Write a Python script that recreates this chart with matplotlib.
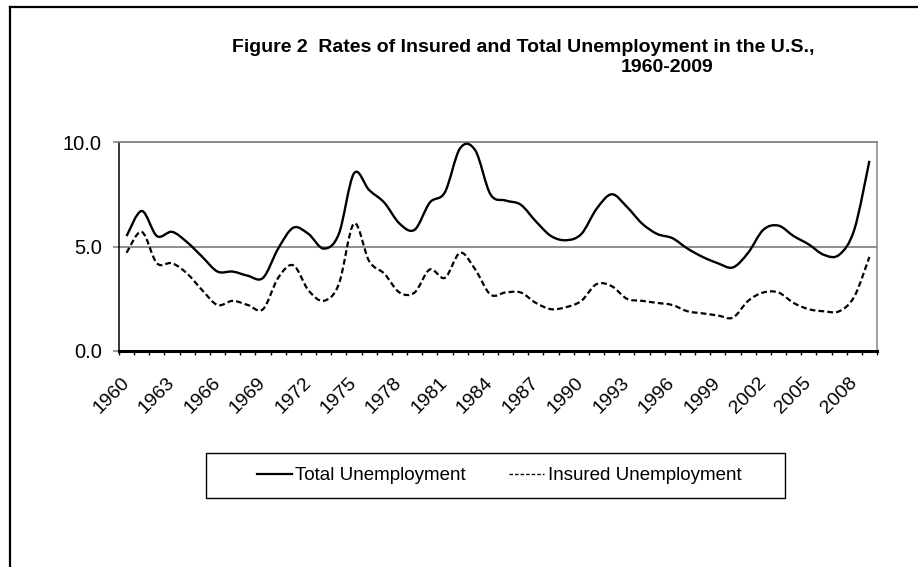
import numpy as np
import matplotlib
matplotlib.use("Agg")
import matplotlib.pyplot as plt
from matplotlib.path import Path
from matplotlib.patches import PathPatch, Rectangle
from matplotlib.lines import Line2D

plt.rcParams['font.family'] = ['Liberation Sans', 'DejaVu Sans']

W, H = 918, 567

years = list(range(1960, 2010))
total_rate = [5.5, 6.7, 5.5, 5.7, 5.2, 4.5, 3.8, 3.8, 3.6, 3.5,
              4.9, 5.9, 5.6, 4.9, 5.6, 8.5, 7.7, 7.1, 6.1, 5.8,
              7.1, 7.6, 9.7, 9.6, 7.5, 7.2, 7.0, 6.2, 5.5, 5.3,
              5.6, 6.8, 7.5, 6.9, 6.1, 5.6, 5.4, 4.9, 4.5, 4.2,
              4.0, 4.7, 5.8, 6.0, 5.5, 5.1, 4.6, 4.6, 5.8, 9.1]
insured_rate = [4.7, 5.7, 4.2, 4.2, 3.7, 2.9, 2.2, 2.4, 2.2, 2.0,
                3.5, 4.1, 2.9, 2.4, 3.2, 6.1, 4.3, 3.7, 2.8, 2.8,
                3.9, 3.5, 4.7, 3.9, 2.7, 2.8, 2.8, 2.3, 2.0, 2.1,
                2.4, 3.2, 3.1, 2.5, 2.4, 2.3, 2.2, 1.9, 1.8, 1.7,
                1.6, 2.4, 2.8, 2.8, 2.3, 2.0, 1.9, 1.9, 2.6, 4.5]
y_ticks = [0, 5, 10]
series_names = ['Total Unemployment', 'Insured Unemployment']


def smooth_path(xs, ys):
    # excel style smoothed line: bezier segments through every point
    pts = np.column_stack([xs, ys]).astype(float)
    padded = np.vstack([pts[0], pts, pts[-1]])
    verts = [pts[0]]
    codes = [Path.MOVETO]
    for i in range(len(pts) - 1):
        p0, p1, p2, p3 = padded[i], padded[i + 1], padded[i + 2], padded[i + 3]
        verts += [p1 + (p2 - p0) / 6, p2 - (p3 - p1) / 6, p2]
        codes += [Path.CURVE4] * 3
    return Path(verts, codes)


def fx(px):
    return px / W


def fy(px):
    return 1 - px / H


fig = plt.figure(figsize=(W / 100, H / 100), dpi=100)
ax = fig.add_axes([fx(119), fy(351), fx(877) - fx(119), fy(142) - fy(351)])

x = np.arange(len(years))
ax.add_patch(PathPatch(smooth_path(x, total_rate), fill=False,
                       edgecolor='black', lw=1.7, zorder=3))
ax.add_patch(PathPatch(smooth_path(x, insured_rate), fill=False,
                       edgecolor='black', lw=1.6, linestyle=(0, (2.6, 1.4)), zorder=3))

ax.set_xlim(-0.5, len(years) - 0.5)
ax.set_ylim(0, 10)

gray = '#868686'
ax.set_xticks(x[::3])
ax.set_xticklabels([str(y) for y in years[::3]], rotation=45, ha='right',
                   va='center', rotation_mode='anchor', fontsize=14)
ax.set_xticks(np.arange(-0.5, len(years), 1), minor=True)
ax.tick_params(axis='x', which='major', length=0, pad=21)
ax.tick_params(axis='x', which='minor', length=3, width=1, color='black')

ax.set_yticks(y_ticks)
ax.set_yticklabels(['%.1f' % v for v in y_ticks], fontsize=14.5)
ax.tick_params(axis='y', length=4.5, width=1.2, color=gray, pad=8)
ax.yaxis.grid(True, color=gray, lw=1.3)
ax.set_axisbelow(True)

ax.spines['bottom'].set_linewidth(2.2)
ax.spines['bottom'].set_color('black')
ax.spines['left'].set_linewidth(1.1)
ax.spines['left'].set_color('black')
ax.spines['right'].set_color(gray)
ax.spines['right'].set_linewidth(1.1)
ax.spines['top'].set_color(gray)
ax.spines['top'].set_linewidth(1.3)
ax.spines['bottom'].set_zorder(4)

fig.text(fx(523), fy(51.5), 'Figure 2  Rates of Insured and Total Unemployment in the U.S.,',
         ha='center', va='baseline', fontsize=14, fontweight='bold')
fig.text(fx(667), fy(72.5), '1960-2009', ha='center', va='baseline',
         fontsize=14, fontweight='bold')

# outer chart frame (only top and left edges fall inside the image)
fig.add_artist(Line2D([fx(10), 1.0], [fy(7), fy(7)], transform=fig.transFigure,
                      color='black', lw=1.6))
fig.add_artist(Line2D([fx(10), fx(10)], [fy(7), 0.0], transform=fig.transFigure,
                      color='black', lw=1.6))

fig.add_artist(Rectangle((fx(206), fy(498)), fx(785) - fx(206), fy(453) - fy(498),
                         transform=fig.transFigure, fill=False, edgecolor='black', lw=1))
handles = [Line2D([], [], color='black', lw=1.6),
           Line2D([], [], color='black', lw=1.0, linestyle=(0, (2.5, 1.5)))]
fig.legend(handles, series_names, loc='center', bbox_to_anchor=(fx(499), fy(475.5)),
           ncol=2, frameon=False, fontsize=13.5, handlelength=1.87,
           handletextpad=0.2, columnspacing=2.3)

fig.savefig('out.png', dpi=100)
